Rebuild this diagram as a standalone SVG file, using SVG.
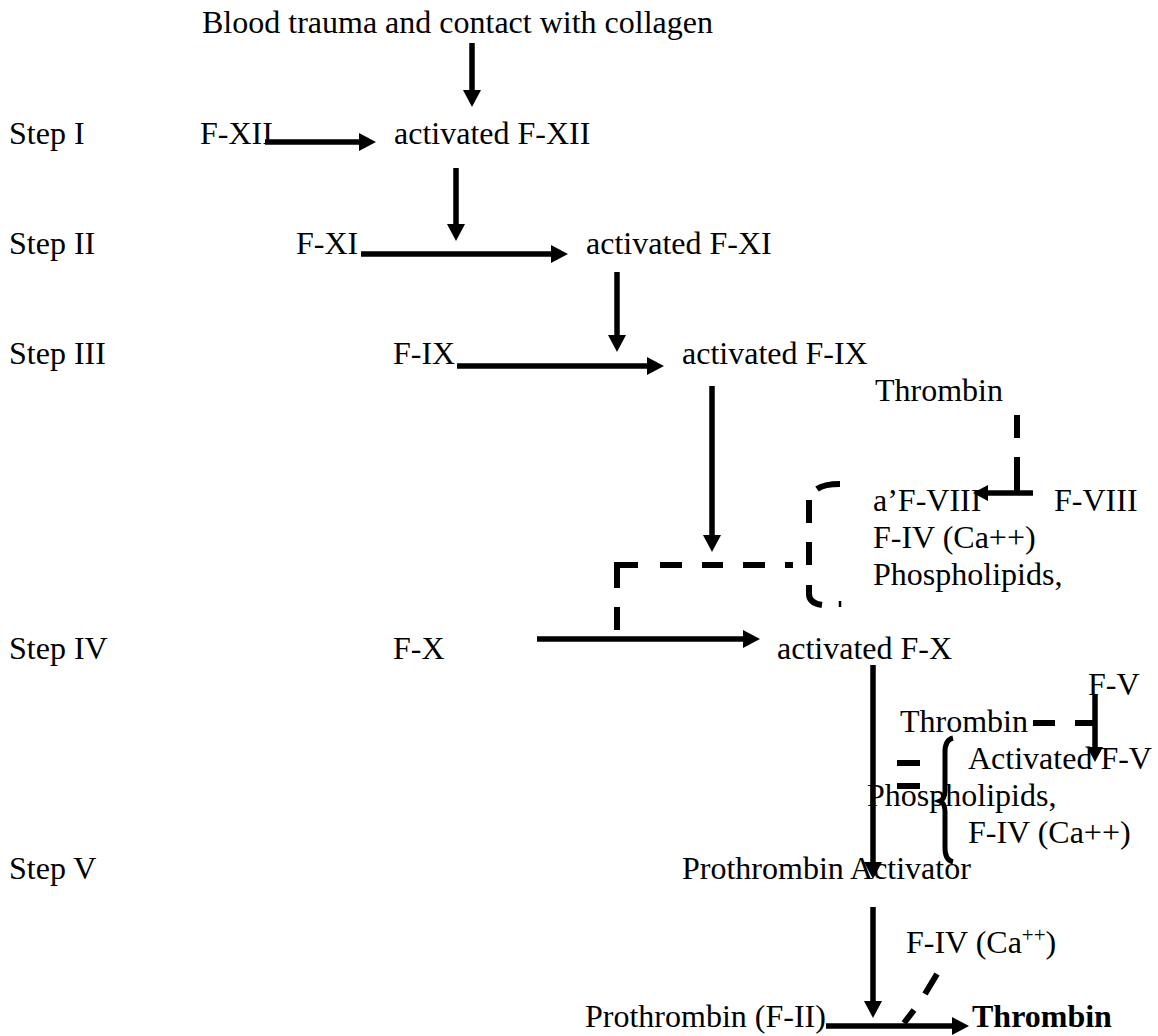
<svg xmlns="http://www.w3.org/2000/svg" width="1158" height="1036" viewBox="0 0 1158 1036">
  <defs>
    <marker id="head" markerUnits="userSpaceOnUse" markerWidth="20" markerHeight="20" refX="0" refY="9" orient="auto">
      <path d="M0,0 L17,9 L0,18 Z" fill="#000"/>
    </marker>
    <marker id="headSm" markerUnits="userSpaceOnUse" markerWidth="18" markerHeight="18" refX="0" refY="8" orient="auto">
      <path d="M0,0 L15,8 L0,16 Z" fill="#000"/>
    </marker>
  </defs>
  <style>
    text { font-family: "Liberation Serif", "Times New Roman", serif; font-size: 32px; fill: #000; }
    .bold { font-weight: bold; }
    .sup { font-size: 21px; }
    .arrow { stroke: #000; stroke-width: 5.5; fill: none; marker-end: url(#head); }
    .arrowSm { stroke: #000; stroke-width: 5.5; fill: none; marker-end: url(#headSm); }
    .dash { stroke: #000; stroke-width: 6; fill: none; }
    .thin { stroke: #000; stroke-width: 2.5; fill: none; }
  </style>
  <rect width="1158" height="1036" fill="#fff"/>

  <!-- step labels -->
  <g id="step-1"><text x="9" y="144">Step I</text></g>
  <g id="step-2"><text x="9" y="254">Step II</text></g>
  <g id="step-3"><text x="9" y="364">Step III</text></g>
  <g id="step-4"><text x="9" y="659">Step IV</text></g>
  <g id="step-5"><text x="9" y="879">Step V</text></g>

  <!-- cascade nodes -->
  <g id="trigger"><text x="202" y="33">Blood trauma and contact with collagen</text></g>
  <g id="f12"><text x="200" y="144">F-XII</text></g>
  <g id="f12a"><text x="394" y="144">activated F-XII</text></g>
  <g id="f11"><text x="296" y="254">F-XI</text></g>
  <g id="f11a"><text x="586" y="254">activated F-XI</text></g>
  <g id="f9"><text x="393" y="364">F-IX</text></g>
  <g id="f9a"><text x="682" y="364">activated F-IX</text></g>
  <g id="thrombin-1"><text x="875" y="401">Thrombin</text></g>
  <g id="f8a"><text x="873" y="511">a’F-VIII</text></g>
  <g id="f8"><text x="1054" y="511">F-VIII</text></g>
  <g id="cofactors-1">
    <text x="873" y="548">F-IV (Ca++)</text>
    <text x="873" y="585">Phospholipids,</text>
  </g>
  <g id="f10"><text x="393" y="659">F-X</text></g>
  <g id="f10a"><text x="777" y="659">activated F-X</text></g>
  <g id="f5"><text x="1088" y="695">F-V</text></g>
  <g id="thrombin-2"><text x="900" y="732">Thrombin</text></g>
  <g id="f5a"><text x="968" y="769">Activated F-V</text></g>
  <g id="cofactors-2">
    <text x="867" y="806">Phospholipids,</text>
    <text x="968" y="843">F-IV (Ca++)</text>
  </g>
  <g id="activator"><text x="682" y="879">Prothrombin Activator</text></g>
  <g id="calcium"><text x="906" y="953">F-IV (Ca<tspan class="sup" dy="-11">++</tspan><tspan dy="11">)</tspan></text></g>
  <g id="prothrombin"><text x="585" y="1027">Prothrombin (F-II)</text></g>
  <g id="thrombin-3"><text x="972" y="1027" class="bold">Thrombin</text></g>

  <!-- connectors -->
  <g id="connectors">
    <!-- solid reaction arrows -->
    <line class="arrow" x1="472" y1="43" x2="472" y2="90"/>
    <line class="arrow" x1="265" y1="142" x2="359" y2="142"/>
    <line class="arrow" x1="456" y1="168" x2="456" y2="224"/>
    <line class="arrow" x1="361" y1="254" x2="551" y2="254"/>
    <line class="arrow" x1="617" y1="272" x2="617" y2="335"/>
    <line class="arrow" x1="457" y1="366" x2="647" y2="366"/>
    <line class="arrow" x1="712" y1="386" x2="712" y2="535"/>
    <line class="arrowSm" x1="1033" y1="493" x2="988" y2="493"/>
    <line class="arrow" x1="537" y1="639" x2="743" y2="639"/>
    <line class="arrow" x1="873" y1="665" x2="873" y2="862"/>
    <line class="arrowSm" x1="1095" y1="695" x2="1095" y2="747"/>
    <line class="arrow" x1="873" y1="907" x2="873" y2="1001"/>
    <line class="arrow" x1="826" y1="1026" x2="952" y2="1026"/>

    <!-- thrombin feedback onto F-VIII -->
    <path class="dash" d="M1017,415 V438 M1017,457 V491"/>
    <!-- a'F-VIII complex bracket and link to F-X step -->
    <path class="dash" d="M817,489 Q824,484 840,484 M809,500 V523 M809,542 V565 M809,585 V594 Q809,603 822,605"/>
    <path class="thin" d="M840,601 V607"/>
    <path class="dash" d="M617,630 V607 M617,588 V565 H638 M660,565 H682 M702,565 H723 M743,565 H765 M785,565 H793" stroke-linejoin="miter"/>

    <!-- thrombin feedback onto F-V -->
    <path class="dash" d="M1033,723 H1055 M1075,723 H1095"/>
    <path class="dash" d="M897,763 H920 M897,786 H920"/>
    <!-- brace grouping the F-V complex -->
    <path d="M953,738 Q945,740 945,752 V790 Q945,799 940,801 Q945,803 945,812 V848 Q945,860 953,862" fill="none" stroke="#000" stroke-width="5"/>

    <!-- calcium onto the final step -->
    <path class="dash" d="M937,974 L925,994 M914,1010 L904,1023"/>
  </g>
</svg>
